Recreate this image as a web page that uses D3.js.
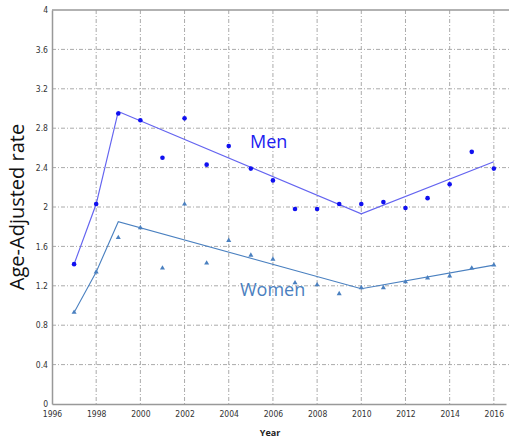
<!DOCTYPE html>
<html>
<head>
<meta charset="utf-8">
<script src="https://cdn.jsdelivr.net/npm/d3@7"></script>
<style>
body { margin: 0; background: #fff; }
svg { display: block; font-family: "Open Sans", "DejaVu Sans", sans-serif; }
</style>
</head>
<body>
<svg id="chart"></svg>
<script>
var screen = {width: 509, height: 442}
var margins = {top: 10, right: 3, left: 52, bottom: 38}

// observed rates by year
var years = [1997,1998,1999,2000,2001,2002,2003,2004,2005,2006,2007,2008,2009,2010,2011,2012,2013,2014,2015,2016]
var menRates = [1.42,2.03,2.95,2.88,2.50,2.90,2.43,2.62,2.39,2.27,1.98,1.98,2.03,2.03,2.05,1.99,2.09,2.23,2.56,2.39]
var womenRates = [0.93,1.34,1.69,1.79,1.38,2.03,1.43,1.66,1.51,1.47,1.23,1.21,1.12,1.18,1.18,1.24,1.28,1.30,1.38,1.41]

// joinpoint fitted lines
var menFitYears = [1997,1998,1999,2010,2016]
var menFit = [1.42,2.03,2.97,1.93,2.46]
var womenFitYears = [1997,1998,1999,2010,2016]
var womenFit = [0.93,1.34,1.85,1.17,1.41]

var xTicks = [1996,1998,2000,2002,2004,2006,2008,2010,2012,2014,2016]
var yTicks = [0,0.4,0.8,1.2,1.6,2,2.4,2.8,3.2,3.6,4]

var menColor = "#1010f0"
var menLine = "#6464f0"
var womenColor = "#4a80c0"

var svg = d3.select("#chart")
    .attr("width", screen.width)
    .attr("height", screen.height)

var x = d3.scaleLinear().domain([1996, 2016.55]).range([margins.left, screen.width - margins.right])
var y = d3.scaleLinear().domain([0, 4]).range([screen.height - margins.bottom, margins.top])

// grid
svg.append("g").selectAll("line")
    .data(xTicks.slice(1))
    .enter().append("line")
    .attr("x1", d => x(d)).attr("x2", d => x(d))
    .attr("y1", y(4)).attr("y2", y(0))
    .attr("stroke", "#aaa").attr("stroke-dasharray", "4,2,1,2")

svg.append("g").selectAll("line")
    .data(yTicks.slice(1, -1))
    .enter().append("line")
    .attr("x1", x(1996)).attr("x2", screen.width)
    .attr("y1", d => y(d)).attr("y2", d => y(d))
    .attr("stroke", "#aaa").attr("stroke-dasharray", "4,2,1,2")

// axes
var xAxis = svg.append("g")
    .attr("transform", "translate(0," + y(0) + ")")
    .call(d3.axisBottom(x).tickValues(xTicks).tickFormat(d3.format("d")).tickSize(0).tickPadding(7))
var yAxis = svg.append("g")
    .attr("transform", "translate(" + x(1996) + ",0)")
    .call(d3.axisLeft(y).tickValues(yTicks).tickFormat(d => String(d)).tickSize(0).tickPadding(4))

xAxis.select(".domain").attr("stroke", "#999").attr("stroke-width", 1.5)
yAxis.select(".domain").attr("stroke", "#999").attr("stroke-width", 1.5)
svg.selectAll(".tick text").attr("font-size", 8.5).attr("fill", "#333")
    .attr("font-family", "'Liberation Sans Narrow', 'DejaVu Sans Condensed', sans-serif")

// top border
svg.append("line")
    .attr("x1", x(1996)).attr("x2", screen.width)
    .attr("y1", y(4)).attr("y2", y(4))
    .attr("stroke", "#999").attr("stroke-width", 1.5)

// fitted lines
var line = d3.line().x(d => x(d[0])).y(d => y(d[1]))
svg.append("path")
    .attr("d", line(d3.zip(menFitYears, menFit)))
    .attr("fill", "none").attr("stroke", menLine).attr("stroke-width", 1.2)
svg.append("path")
    .attr("d", line(d3.zip(womenFitYears, womenFit)))
    .attr("fill", "none").attr("stroke", womenColor).attr("stroke-width", 1.1)

// observed points
svg.append("g").selectAll("circle")
    .data(d3.zip(years, menRates))
    .enter().append("circle")
    .attr("cx", d => x(d[0])).attr("cy", d => y(d[1]))
    .attr("r", 2.3).attr("fill", menColor)

var tri = d3.symbol().type(d3.symbolTriangle).size(11)
svg.append("g").selectAll("path")
    .data(d3.zip(years, womenRates))
    .enter().append("path")
    .attr("d", tri)
    .attr("transform", d => "translate(" + x(d[0]) + "," + y(d[1]) + ")")
    .attr("fill", womenColor)

// labels
svg.append("text")
    .attr("x", 250).attr("y", 148)
    .attr("font-size", 18).attr("fill", "#2020f0")
    .text("Men")
svg.append("text")
    .attr("x", 240).attr("y", 296)
    .attr("font-size", 18).attr("fill", womenColor)
    .text("Women")

svg.append("text")
    .attr("transform", "translate(24," + y(2) + ") rotate(-90)")
    .attr("text-anchor", "middle")
    .attr("font-size", 20).attr("fill", "#111")
    .text("Age-Adjusted rate")

svg.append("text")
    .attr("x", 270).attr("y", 436)
    .attr("text-anchor", "middle")
    .attr("font-size", 9).attr("font-weight", "bold").attr("fill", "#222")
    .text("Year")
</script>
</body>
</html>
